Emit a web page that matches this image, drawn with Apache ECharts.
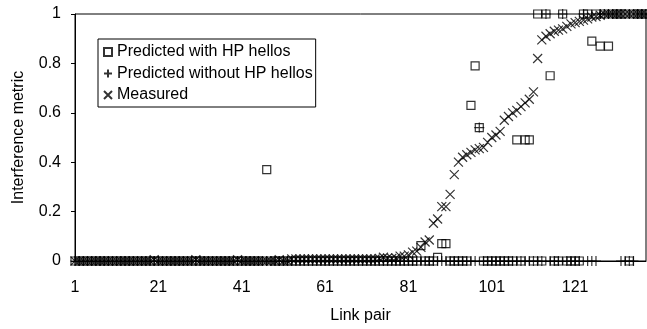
<!DOCTYPE html>
<html>
<head>
<meta charset="utf-8">
<script src="https://cdn.jsdelivr.net/npm/echarts@6/dist/echarts.min.js"></script>
<style>
  html, body { margin: 0; padding: 0; background: #fff; }
  #chart { width: 647px; height: 329px; }
</style>
</head>
<body>
<div id="chart"></div>
<script>
// link pair numbers 1..138 (category axis)
var linkPairs = [];
for (var i = 1; i <= 138; i++) linkPairs.push(String(i));

var predictedWithHP = [
  0,0,0,0,0,0,0,0,0,0,
  0,0,0,0,0,0,0,0,0,0,
  0,0,0,0,0,0,0,0,0,0,
  0,0,0,0,0,0,0,0,0,0,
  0,0,0,0,0,0,0.37,0,0,0,
  0,0,0,0,0,0,0,0,0,0,
  0,0,0,0,0,0,0,0,0,0,
  0,0,0,0,0,0,0,0,0,0,
  0,0,0,0.062,0,0,0,0.015,0.07,0.07,
  0,0,0,0,0,0.63,0.79,0.54,0,0,
  0,0,0,0,0,0,0.49,0,0.49,0.49,
  0,1,0,1,0.75,0,0,1,0,0,
  0,0,1,1,0.89,1,0.87,1,0.87,1,
  1,1,1,0,1,1,1,1
];

var predictedWithoutHP = [
  0,0,0,0,0,0,0,0,0,0,
  0,0,0,0,0,0,0,0,0,0,
  0,0,0,0,0,0,0,0,0,0,
  0,0,0,0,0,0,0,0,0,0,
  0,0,0,0,0,0,0,0,0,0,
  0,0,0,0,0,0,0,0,0,0,
  0,0,0,0,0,0,0,0,0,0,
  0,0,0,0,0,0,0,0,0,0,
  0,0,0,0,0,0,0,0,0,0,
  0,0,0,0,0,0,0,0.54,0,0,
  0,0,0,0,0,0,0,0,0,0,
  0,0,0,1,0,0,0,1,0,0,
  0,0,1,0,0,0,1,1,1,1,
  1,0,0,0,0,1,1,1
];

var measured = [
  0,0,0,0,0,0,0,0,0,0,
  0,0,0,0,0,0,0,0,0,0.005,
  0,0,0,0,0,0,0,0,0,0.005,
  0,0,0,0,0,0,0,0,0,0.005,
  0,0,0,0,0,0,0,0,0,0.005,
  0,0,0.008,0.008,0.008,0.008,0.008,0.008,0.008,0.008,
  0.008,0.008,0.008,0.008,0.008,0.008,0.008,0.008,0.008,0.008,
  0.008,0.008,0.008,0.01,0.015,0.012,0.01,0.012,0.02,0.02,
  0.025,0.036,0.04,0.055,0.077,0.085,0.153,0.17,0.22,0.22,
  0.27,0.35,0.40,0.42,0.43,0.44,0.45,0.455,0.46,0.48,
  0.50,0.51,0.525,0.57,0.585,0.60,0.61,0.625,0.64,0.655,
  0.685,0.82,0.895,0.91,0.92,0.93,0.935,0.94,0.95,0.96,
  0.965,0.97,0.975,0.98,0.988,0.99,0.995,1,1,1,
  1,1,1,1,1,1,1,1
];

var seriesNames = ['Predicted with HP hellos', 'Predicted without HP hellos', 'Measured'];

var plusPath = 'path://M5,0L5,10M0,5L10,5';
var crossPath = 'path://M0,0L10,10M10,0L0,10';
var font = 'Liberation Sans, Arial, sans-serif';

var myChart = echarts.init(document.getElementById('chart'));

var option = {
  animation: false,
  textStyle: { fontFamily: font },
  grid: {
    left: 75, right: 1, top: 14, bottom: 67,
    show: true, borderColor: '#000', borderWidth: 1
  },
  legend: {
    orient: 'vertical',
    left: 98, top: 39,
    data: seriesNames,
    itemWidth: 8, itemHeight: 8, itemGap: 5.5,
    padding: [5, 3, 4, 5],
    borderColor: '#000', borderWidth: 1,
    textStyle: { fontSize: 16, color: '#000', fontFamily: font }
  },
  xAxis: {
    type: 'category',
    data: linkPairs,
    boundaryGap: false,
    name: 'Link pair',
    nameLocation: 'middle',
    nameGap: 47,
    nameTextStyle: { fontSize: 16, color: '#000' },
    axisLine: { lineStyle: { color: '#000', width: 1 } },
    axisTick: { show: false },
    axisLabel: { interval: 19, margin: 19, fontSize: 16, color: '#000' },
    splitLine: { show: false }
  },
  yAxis: {
    type: 'value',
    min: 0, max: 1, interval: 0.2,
    name: 'Interference metric',
    nameLocation: 'middle',
    nameGap: 48,
    nameTextStyle: { fontSize: 16, color: '#000' },
    axisLine: { show: true, lineStyle: { color: '#000', width: 1 } },
    axisTick: { show: true, length: 4, lineStyle: { color: '#000' } },
    axisLabel: { margin: 14, fontSize: 16, color: '#000' },
    splitLine: { show: false }
  },
  series: [
    {
      name: seriesNames[0],
      type: 'scatter',
      symbol: 'rect',
      symbolSize: 8,
      data: predictedWithHP,
      itemStyle: { color: 'rgba(0,0,0,0)', borderColor: '#000', borderWidth: 1.2 },
      emphasis: { disabled: true }
    },
    {
      name: seriesNames[1],
      type: 'scatter',
      symbol: plusPath,
      symbolSize: 10,
      data: predictedWithoutHP,
      itemStyle: { color: 'rgba(0,0,0,0)', borderColor: '#000', borderWidth: 1.2 },
      emphasis: { disabled: true }
    },
    {
      name: seriesNames[2],
      type: 'scatter',
      symbol: crossPath,
      symbolSize: 9,
      data: measured,
      itemStyle: { color: 'rgba(0,0,0,0)', borderColor: '#000', borderWidth: 1.2 },
      emphasis: { disabled: true }
    }
  ]
};

myChart.setOption(option);
</script>
</body>
</html>
